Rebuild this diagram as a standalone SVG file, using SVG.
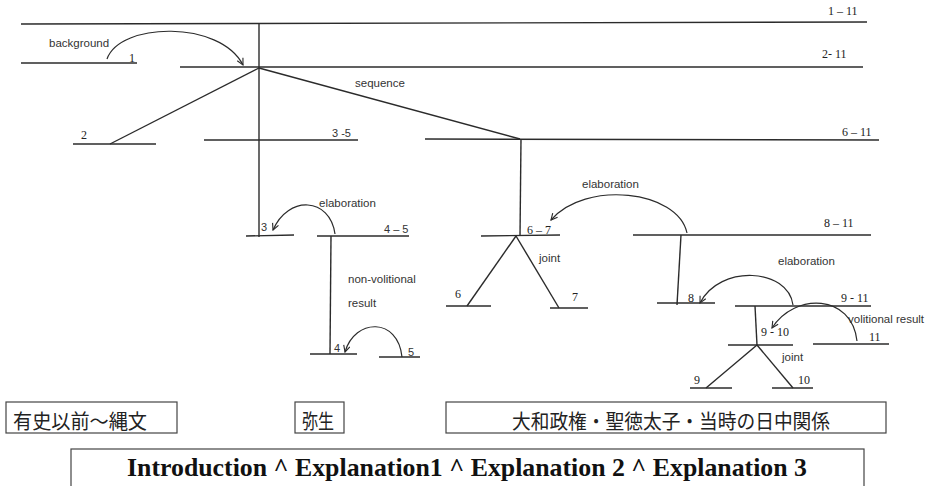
<svg xmlns="http://www.w3.org/2000/svg" width="934" height="486" viewBox="0 0 934 486">
<style>
.seg{stroke:#2b2b2b;stroke-width:1.4;fill:none}
.con{stroke:#2b2b2b;stroke-width:1.4;fill:none}
.arc{fill:none;stroke:#2b2b2b;stroke-width:1.2;marker-end:url(#ah)}
.lbl{font-family:"Liberation Sans","DejaVu Sans",sans-serif;font-size:11.5px;fill:#333}
.num{font-family:"Liberation Serif","DejaVu Serif",serif;font-size:12px;fill:#222}
.sn{font-family:"Liberation Sans","DejaVu Sans",sans-serif;font-size:11px;fill:#333}
.box{fill:#fff;stroke:#444;stroke-width:1.2}
.cjk{font-family:"Liberation Sans","Noto Sans CJK JP",sans-serif;font-size:20px;fill:#222}
.intro{font-family:"Liberation Serif",serif;font-weight:bold;font-size:25px;fill:#111}
</style>
<defs>
<marker id="ah" viewBox="0 0 10 10" refX="9" refY="5" markerWidth="8" markerHeight="8" markerUnits="userSpaceOnUse" orient="auto">
<path d="M1,1 L9,5 L1,9" fill="none" stroke="#2b2b2b" stroke-width="1.4"/>
</marker>
</defs>
<rect width="934" height="486" fill="#fff"/>

<g id="n1-11"><line class="seg" x1="21" y1="24" x2="867" y2="22"/><text class="num" x="828" y="15">1 – 11</text></g>
<g id="n1"><line class="seg" x1="21" y1="63" x2="137" y2="63"/><text class="num" x="129" y="62">1</text></g>
<g id="n2-11"><line class="seg" x1="180" y1="67" x2="863" y2="67"/><text class="num" x="822" y="58">2- 11</text></g>
<g id="n2"><line class="seg" x1="73" y1="144" x2="156" y2="144"/><text class="num" x="81" y="139">2</text></g>
<g id="n3-5"><line class="seg" x1="204" y1="140" x2="358" y2="140"/><text class="sn" x="332" y="137">3 -5</text></g>
<g id="n6-11"><line class="seg" x1="425" y1="139" x2="879" y2="140"/><text class="num" x="842" y="136">6 – 11</text></g>
<g id="n3"><line class="seg" x1="246" y1="236" x2="294" y2="235"/><text class="sn" x="261" y="231">3</text></g>
<g id="n4-5"><line class="seg" x1="317" y1="236" x2="409" y2="236"/><text class="sn" x="384" y="233">4 – 5</text></g>
<g id="n4"><line class="seg" x1="310" y1="354" x2="357" y2="354"/><text class="sn" x="334" y="352">4</text></g>
<g id="n5"><line class="seg" x1="379" y1="357" x2="420" y2="357"/><text class="sn" x="408" y="356">5</text></g>
<g id="n6-7"><line class="seg" x1="481" y1="236" x2="560" y2="235"/><text class="num" x="527" y="234">6 – 7</text></g>
<g id="n6"><line class="seg" x1="446" y1="306" x2="491" y2="306"/><text class="num" x="455" y="298">6</text></g>
<g id="n7"><line class="seg" x1="550" y1="308" x2="588" y2="308"/><text class="num" x="572" y="301">7</text></g>
<g id="n8-11"><line class="seg" x1="633" y1="235" x2="871" y2="235"/><text class="num" x="824" y="227">8 – 11</text></g>
<g id="n8"><line class="seg" x1="657" y1="303" x2="715" y2="303"/><text class="num" x="688" y="302">8</text></g>
<g id="n9-11"><line class="seg" x1="735" y1="306" x2="871" y2="306"/><text class="num" x="841" y="302">9 - 11</text></g>
<g id="n9-10"><line class="seg" x1="728" y1="345" x2="793" y2="345"/><text class="num" x="761" y="336">9 - 10</text></g>
<g id="n11"><line class="seg" x1="813" y1="344" x2="889" y2="344"/><text class="num" x="869" y="341">11</text></g>
<g id="n9"><line class="seg" x1="690" y1="388" x2="732" y2="388"/><text class="num" x="694" y="384">9</text></g>
<g id="n10"><line class="seg" x1="772" y1="388" x2="813" y2="388"/><text class="num" x="798" y="384">10</text></g>

<g id="connectors">
<line class="con" x1="259" y1="23" x2="259" y2="237"/>
<line class="con" x1="259" y1="68" x2="110" y2="144"/>
<line class="con" x1="259" y1="68" x2="520" y2="139"/>
<line class="con" x1="521" y1="139" x2="520" y2="236"/>
<line class="con" x1="516" y1="236" x2="467" y2="306"/>
<line class="con" x1="516" y1="236" x2="559" y2="308"/>
<line class="con" x1="331" y1="236" x2="330" y2="354"/>
<line class="con" x1="681" y1="235" x2="677" y2="305"/>
<line class="con" x1="755" y1="306" x2="757" y2="345"/>
<line class="con" x1="757" y1="345" x2="706" y2="388"/>
<line class="con" x1="757" y1="345" x2="793" y2="388"/>
<path class="arc" d="M107,59 C120,22 220,20 243,65"/>
<path class="arc" d="M335,234 C330,197 288,195 273,230"/>
<path class="arc" d="M402,357 C398,317 355,318 345,352"/>
<path class="arc" d="M687,233 C678,190 585,180 551,220"/>
<path class="arc" d="M793,305 C788,268 720,264 700,303"/>
<path class="arc" d="M857,341 C852,294 795,292 772,328"/>
<text class="lbl" x="49" y="47">background</text>
<text class="lbl" x="355" y="87">sequence</text>
<text class="lbl" x="319" y="207">elaboration</text>
<text class="lbl" x="348" y="283">non-volitional</text>
<text class="lbl" x="348" y="307">result</text>
<text class="lbl" x="582" y="188">elaboration</text>
<text class="lbl" x="539" y="262">joint</text>
<text class="lbl" x="778" y="265">elaboration</text>
<text class="lbl" x="848" y="323">volitional result</text>
<text class="lbl" x="782" y="361">joint</text>
</g>

<g id="box1"><rect class="box" x="6" y="402" width="171" height="31"/><text class="cjk" x="13" y="429" textLength="134" lengthAdjust="spacingAndGlyphs">有史以前～縄文</text></g>
<g id="box2"><rect class="box" x="295" y="402" width="49" height="31"/><text class="cjk" x="302" y="429" textLength="32" lengthAdjust="spacingAndGlyphs">弥生</text></g>
<g id="box3"><rect class="box" x="446" y="402" width="440" height="31"/><text class="cjk" x="512" y="429" textLength="318" lengthAdjust="spacingAndGlyphs">大和政権・聖徳太子・当時の日中関係</text></g>
<g id="intro"><rect class="box" x="71" y="449" width="793" height="44"/><text class="intro" x="467" y="476" text-anchor="middle" textLength="680" lengthAdjust="spacingAndGlyphs">Introduction ^ Explanation1 ^ Explanation 2 ^ Explanation 3</text></g>
</svg>
